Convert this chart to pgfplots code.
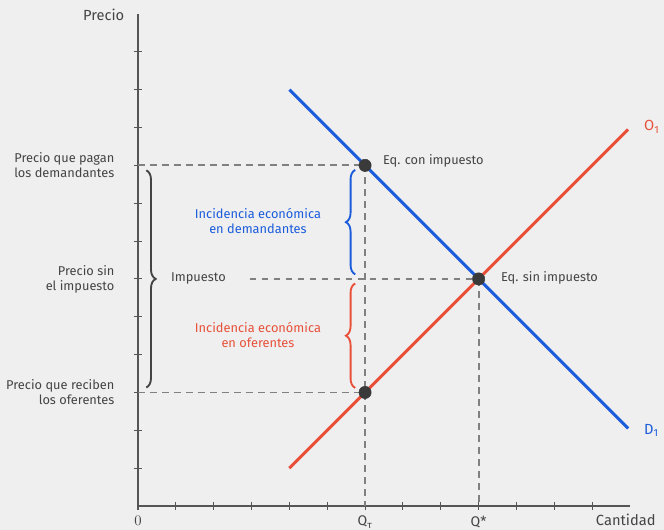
\documentclass[border=0pt]{standalone}
\usepackage{fontspec}
\setmainfont{Fira Sans}
\usepackage{pgfplots}
\pgfplotsset{compat=1.18}
\usetikzlibrary{decorations.pathreplacing}

\definecolor{bg}{HTML}{EFEFEF}
\definecolor{txt}{HTML}{444444}
\definecolor{axisgray}{HTML}{555555}
\definecolor{dashgray}{HTML}{808080}
\definecolor{demblue}{HTML}{1A5CDB}
\definecolor{supred}{HTML}{E8503A}
\definecolor{dotgray}{HTML}{3A3A3A}

\tikzset{
    guide/.style={dashgray, line width=1.4pt, dash pattern=on 5pt off 4pt},
    brc/.style={line width=1.4pt, decorate, decoration={brace, amplitude=7pt}},
}

\begin{document}
\begin{tikzpicture}
\path[use as bounding box, fill=bg] (-103.5pt,-18pt) rectangle (394.5pt,379.5pt);
\begin{axis}[
    scale only axis,
    width=369pt,
    height=369pt,
    xmin=0, xmax=13,
    ymin=0, ymax=13,
    clip=false,
    axis x line=bottom,
    axis y line=left,
    axis line style={-, axisgray, line width=0.9pt},
    xtick={0,...,12},
    xticklabels={$0$,,,,,,Q\textsubscript{τ},,,Q*,,,},
    ytick={1,...,12},
    yticklabels={},
    tick align=center,
    major tick length=6pt,
    tick style={axisgray, line width=0.8pt},
    xticklabel style={font=\fontsize{10.5}{12}\selectfont, text=txt, yshift=-1pt},
    font=\fontsize{9.6}{11.2}\selectfont,
]
% dashed guide lines
\addplot[guide] coordinates {(0,9) (6,9)};
\addplot[guide] coordinates {(2.95,6) (9,6)};
\addplot[guide] coordinates {(0,3) (6,3)};
\addplot[guide] coordinates {(6,9) (6,0)};
\addplot[guide] coordinates {(9,6) (9,0)};

% demand and supply
\addplot[demblue, line width=2.2pt] coordinates {(4,11) (12.95,2.05)};
\addplot[supred, line width=2.2pt] coordinates {(4,1) (12.95,9.95)};

% equilibria
\addplot[only marks, mark=*, mark size=4.6pt, dotgray] coordinates {(6,9) (9,6) (6,3)};

% braces
\draw[txt, brc] (axis cs:0.22,8.87) -- (axis cs:0.22,3.13);
\draw[demblue, brc] (axis cs:5.74,6.12) -- (axis cs:5.74,8.88);
\draw[supred, brc] (axis cs:5.74,3.12) -- (axis cs:5.74,5.88);

% labels
\node[anchor=east, align=right, text=txt, font=\fontsize{11}{13}\selectfont] at (axis cs:-0.24,12.97) {Precio};
\node[anchor=east, text=txt, font=\fontsize{11}{13}\selectfont] at (axis cs:13.8,-0.37) {Cantidad};
\node[anchor=east, align=right, text=txt] at (axis cs:-0.5,9) {Precio que pagan\\los demandantes};
\node[anchor=east, align=right, text=txt] at (axis cs:-0.5,6) {Precio sin\\el impuesto};
\node[anchor=east, align=right, text=txt] at (axis cs:-0.5,3) {Precio que reciben\\los oferentes};
\node[anchor=west, text=txt] at (axis cs:0.75,6) {Impuesto};
\node[align=center, text=demblue] at (axis cs:3.17,7.53) {Incidencia económica\\en demandantes};
\node[align=center, text=supred] at (axis cs:3.17,4.52) {Incidencia económica\\en oferentes};
\node[anchor=west, text=txt] at (axis cs:6.35,9.12) {Eq. con impuesto};
\node[anchor=west, text=txt] at (axis cs:9.47,6.02) {Eq. sin impuesto};
\node[anchor=west, text=supred, font=\fontsize{11}{13}\selectfont] at (axis cs:13.25,10.02) {O\textsubscript{1}};
\node[anchor=west, text=demblue, font=\fontsize{11}{13}\selectfont] at (axis cs:13.25,2.0) {D\textsubscript{1}};
\end{axis}
\end{tikzpicture}
\end{document}
